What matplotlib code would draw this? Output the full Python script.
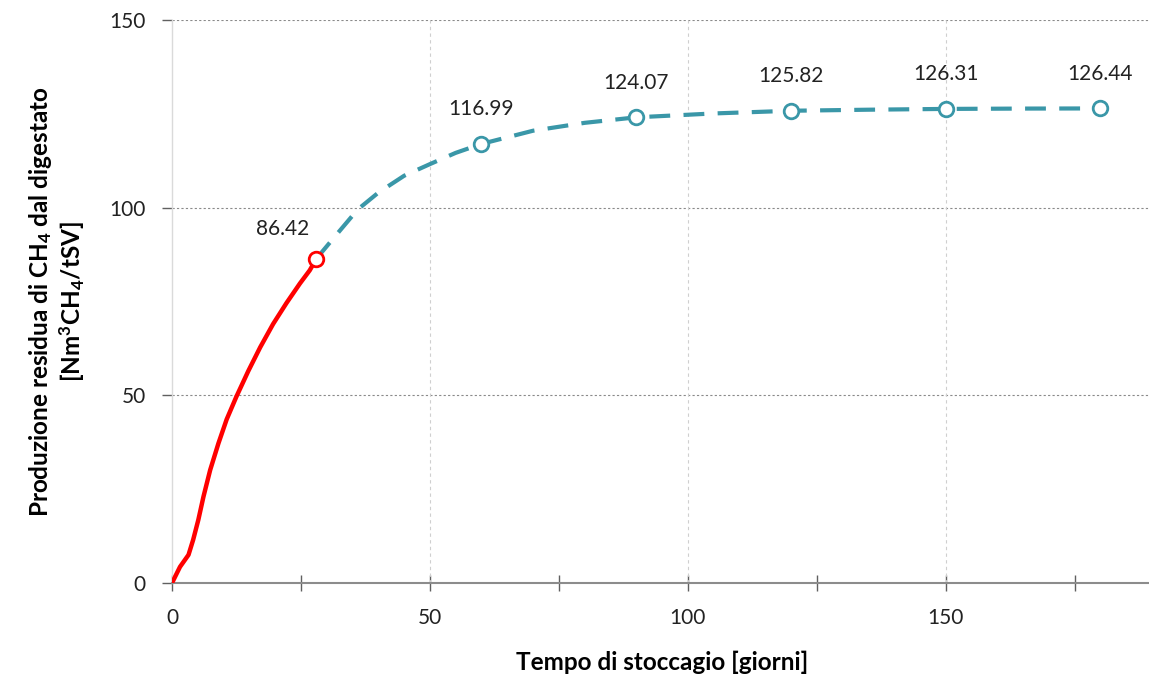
import matplotlib.pyplot as plt
import numpy as np

plt.rcParams['font.family'] = ['Lato', 'DejaVu Sans']
plt.rcParams['mathtext.default'] = 'regular'

# red part: measured curve up to 28 days
red_x = [0, 1.55, 3.2, 4.1, 5.1, 6.1, 7.4, 9.0, 10.6, 12.5, 14.8, 17.1, 19.6, 22.2,
         24.8, 26.7, 28]
red_y = [0, 4.3, 7.5, 11.5, 16.8, 23, 30.1, 37.2, 43.6, 49.7, 56.5, 62.8, 69.0, 74.6,
         79.8, 83.3, 86.42]

# dashed part: projection
dash_x = [28, 32, 36, 40, 45, 50, 55, 60, 70, 80, 90, 105, 120, 135, 150, 165, 180]
dash_y = [86.42, 93, 99.5, 104, 108.5, 111.6, 114.6, 116.99, 120.5, 122.6, 124.07,
          125.1, 125.82, 126.1, 126.31, 126.4, 126.44]

red_pt_x = [28]
red_pt_y = [86.42]
pts_x = [60, 90, 120, 150, 180]
pts_y = [116.99, 124.07, 125.82, 126.31, 126.44]

red = '#ff0000'
teal = '#3a97a8'

fig = plt.figure(figsize=(11.49, 6.84), dpi=100)
ax = fig.add_axes([172 / 1149, 101 / 684, 980 / 1149, 563 / 684])

ax.plot(dash_x, dash_y, color=teal, lw=3, dashes=(5, 3.2), solid_capstyle='butt',
        zorder=3)
ax.plot(red_x, red_y, color=red, lw=3.2, solid_capstyle='round',
        solid_joinstyle='round', zorder=4)
ax.plot(pts_x, pts_y, ls='none', marker='o', ms=10.5, mfc='white', mec=teal,
        mew=2, zorder=5)
ax.plot(red_pt_x, red_pt_y, ls='none', marker='o', ms=10.5, mfc='white', mec=red,
        mew=2, zorder=5)

ax.annotate(f'{red_pt_y[0]:.2f}', (red_pt_x[0], red_pt_y[0]), xytext=(-24, 21),
            textcoords='offset points', ha='center', va='center', fontsize=15,
            color='#222222')
for x, y in zip(pts_x, pts_y):
    ax.annotate(f'{y:.2f}', (x, y), xytext=(0, 25), textcoords='offset points',
                ha='center', va='center', fontsize=15, color='#222222')

ax.set_xlim(0, 190)
ax.set_ylim(0, 150)
ax.set_xticks([0, 50, 100, 150])
ax.set_xticks([25, 75, 125, 175], minor=True)
ax.set_yticks([0, 50, 100, 150])

ax.grid(axis='y', color='#8a8a8a', ls=(0, (2, 2)), lw=0.8)
for gx in [50, 100, 150]:
    ax.axvline(gx, color='#cfcfcf', ls=(0, (3, 3)), lw=0.8, zorder=1)
ax.set_axisbelow(True)

for s in ['top', 'right']:
    ax.spines[s].set_visible(False)
ax.spines['left'].set_color('#dadada')
ax.spines['left'].set_linewidth(1)
ax.spines['bottom'].set_color('#8c8c8c')
ax.spines['bottom'].set_linewidth(1.5)

ax.tick_params(axis='x', which='both', direction='inout', length=12, width=1,
               color='#606060', labelsize=15, pad=12, labelcolor='#222222')
ax.tick_params(axis='y', direction='out', length=7, width=1, color='#606060',
               labelsize=15, pad=12, labelcolor='#222222')

ax.set_xlabel('Tempo di stoccagio [giorni]', fontsize=17.5, fontweight='bold',
              labelpad=16)
ax.set_ylabel('Produzione residua di CH$_4$ dal digestato\n[Nm$^3$CH$_4$/tSV]',
              fontsize=17.5, fontweight='bold', labelpad=16, linespacing=1.15)

fig.savefig('out.png', dpi=100)
